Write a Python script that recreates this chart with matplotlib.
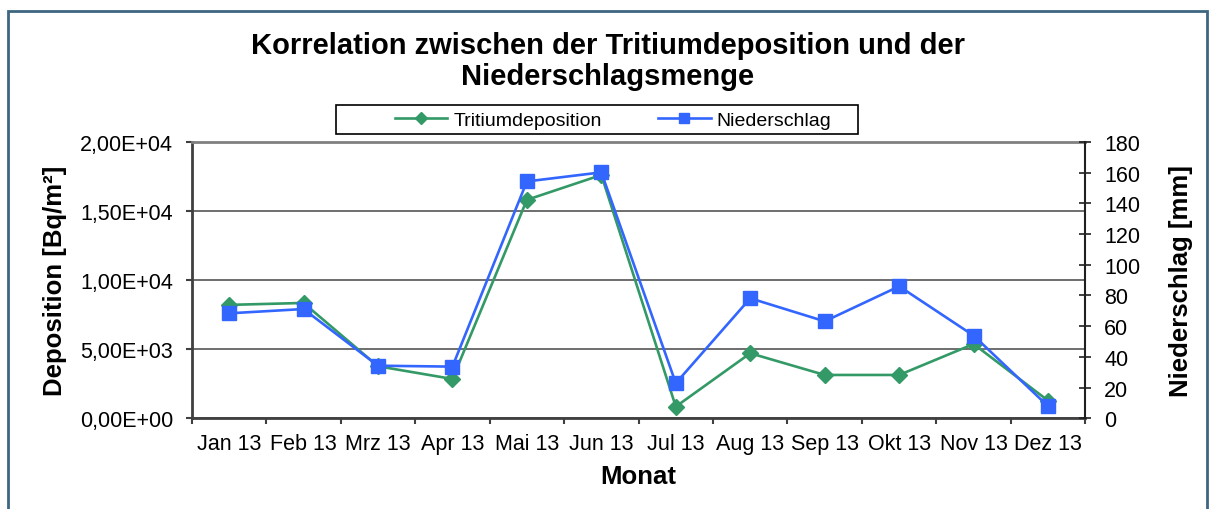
import matplotlib
matplotlib.use('Agg')
import matplotlib.pyplot as plt
from matplotlib.patches import Rectangle
from matplotlib.ticker import FuncFormatter, FixedLocator

plt.rcParams['font.family'] = ['Liberation Sans', 'DejaVu Sans']

# Daten
monate = ['Jan 13', 'Feb 13', 'Mrz 13', 'Apr 13', 'Mai 13', 'Jun 13',
          'Jul 13', 'Aug 13', 'Sep 13', 'Okt 13', 'Nov 13', 'Dez 13']
tritium = [8200, 8340, 3760, 2840, 15800, 17600, 840, 4700, 3130, 3130, 5370, 1270]
niederschlag = [68.3, 71.1, 34.2, 33.6, 154.2, 160.1, 22.8, 78.1, 63.1, 85.9, 53.8, 7.8]

gruen = '#339966'
blau = '#3366FF'
W, H = 1214, 510

fig = plt.figure(figsize=(W / 100, H / 100), dpi=100)
ax = fig.add_axes([0.158, 0.178, 0.736, 0.542])
ax2 = ax.twinx()

x = list(range(len(monate)))
l1, = ax.plot(x, tritium, color=gruen, lw=1.9, marker='D', ms=8.5,
              mec=gruen, label='Tritiumdeposition', zorder=3)
l2, = ax2.plot(x, niederschlag, color=blau, lw=1.9, marker='s', ms=10.3,
               mec=blau, label='Niederschlag', zorder=3)

ax.set_xlim(-0.5, len(monate) - 0.5)
ax.set_ylim(0, 20000)
ax2.set_ylim(0, 180)

ax.set_yticks([0, 5000, 10000, 15000, 20000])
ax.yaxis.set_major_formatter(FuncFormatter(
    lambda v, p: ('%.2E' % v).replace('.', ',')))
ax2.set_yticks(range(0, 181, 20))

# Striche an den Kategoriegrenzen, Beschriftung in der Mitte
ax.xaxis.set_major_locator(FixedLocator([i + 0.5 for i in range(-1, 12)]))
ax.xaxis.set_major_formatter(FuncFormatter(lambda v, p: ''))
ax.xaxis.set_minor_locator(FixedLocator(x))
ax.set_xticklabels(monate, minor=True)
ax.tick_params(axis='x', which='major', length=4.5, width=1.5, color='#404040')
ax.tick_params(axis='x', which='minor', length=0, labelsize=15.5, pad=11)
ax.tick_params(axis='y', length=4.5, width=1.5, color='#404040', labelsize=15.5, pad=9)
ax2.tick_params(axis='y', direction='inout', length=9, width=1.2,
                color='#202020', labelsize=15.5, pad=9)

ax.grid(axis='y', color='#555555', lw=1.2)
ax.set_axisbelow(True)
for s in ['left', 'bottom']:
    ax.spines[s].set_color('#404040')
    ax.spines[s].set_linewidth(2)
ax.spines['top'].set_color('#808080')
ax.spines['top'].set_linewidth(2)
ax.spines['right'].set_visible(False)
for s in ['left', 'bottom', 'top']:
    ax2.spines[s].set_visible(False)
ax2.spines['right'].set_color('#202020')
ax2.spines['right'].set_linewidth(1.5)

ax.set_xlabel('Monat', fontsize=18.5, fontweight='bold', labelpad=7)
ax.set_ylabel('Deposition [Bq/m²]', fontsize=18.5, fontweight='bold', labelpad=9)
ax2.set_ylabel('Niederschlag [mm]', fontsize=18.5, fontweight='bold', labelpad=21)

fig.text(0.5008, 1 - 32 / H, 'Korrelation zwischen der Tritiumdeposition und der\nNiederschlagsmenge',
         ha='center', va='top', fontsize=21, fontweight='bold', linespacing=1.12)

# Legende ohne Rahmen, Rahmen separat (Excel-Box ist breiter als der Inhalt)
leg = fig.legend(handles=[l1, l2], loc='center', bbox_to_anchor=(613 / W, 1 - 121 / H),
                 ncol=2, fontsize=14, frameon=False, borderpad=0,
                 handlelength=2.7, columnspacing=2.9, handletextpad=0.3,
                 markerscale=0.75)
fig.patches.append(Rectangle((336 / W, 1 - 135 / H), 522 / W, 29 / H,
                             transform=fig.transFigure, fill=False,
                             edgecolor='black', lw=1.2))

# Rahmen um die Grafik
fig.patches.append(Rectangle((8 / W, -0.05), 1199 / W, 1.05 - 12 / H,
                             transform=fig.transFigure, fill=False,
                             edgecolor='#3d6680', lw=2))

fig.savefig('out.png', dpi=100)
